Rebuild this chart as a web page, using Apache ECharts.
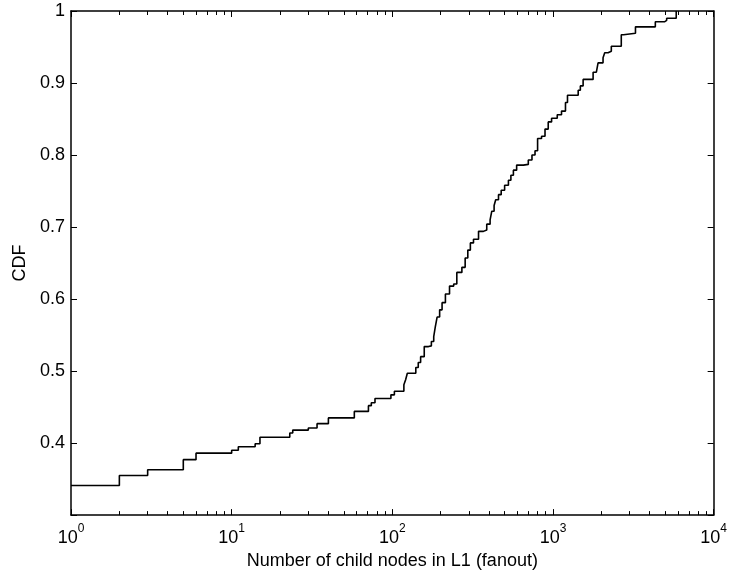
<!DOCTYPE html>
<html>
<head>
<meta charset="utf-8">
<script src="https://cdn.jsdelivr.net/npm/echarts@6/dist/echarts.min.js"></script>
<style>html,body{margin:0;padding:0;background:#fff}#c{width:730px;height:575px}</style>
</head>
<body>
<div id="c"></div>
<script>
// Jump locations (fanout) and CDF level after each jump
var fanout = [1, 2, 3, 5, 6, 10, 11, 14, 15, 23, 24, 30, 34, 40, 58, 71, 74, 78, 98, 103, 118, 121, 124, 140, 145, 150, 158, 168, 175, 181, 185, 190, 197, 204, 214, 227, 241, 252, 271, 284, 295, 306, 320, 344, 369, 387, 406, 416, 430, 440, 458, 476, 500, 528, 547, 567, 594, 654, 702, 740, 773, 802, 849, 892, 934, 980, 1063, 1130, 1196, 1231, 1435, 1480, 1540, 1777, 1862, 1908, 2049, 2099, 2201, 2307, 2661, 2750, 3261, 4335, 4943, 5100, 5848];
var cdf = [0.341, 0.355, 0.363, 0.377, 0.386, 0.390, 0.395, 0.399, 0.408, 0.414, 0.418, 0.421, 0.427, 0.435, 0.444, 0.452, 0.456, 0.462, 0.467, 0.472, 0.481, 0.488, 0.497, 0.505, 0.512, 0.520, 0.534, 0.535, 0.541, 0.548, 0.561, 0.575, 0.585, 0.595, 0.607, 0.618, 0.621, 0.637, 0.644, 0.657, 0.668, 0.678, 0.683, 0.694, 0.696, 0.704, 0.710, 0.722, 0.730, 0.738, 0.745, 0.751, 0.758, 0.765, 0.772, 0.779, 0.786, 0.787, 0.793, 0.800, 0.806, 0.823, 0.826, 0.836, 0.846, 0.851, 0.856, 0.861, 0.873, 0.883, 0.890, 0.896, 0.905, 0.915, 0.917, 0.928, 0.935, 0.942, 0.944, 0.951, 0.967, 0.969, 0.978, 0.985, 0.987, 0.990, 1.000];
var xMajor = [1, 10, 100, 1000, 10000];
var xMinor = [2,3,4,5,6,7,8,9,20,30,40,50,60,70,80,90,200,300,400,500,600,700,800,900,2000,3000,4000,5000,6000,7000,8000,9000];
var yTicks = [0.3, 0.4, 0.5, 0.6, 0.7, 0.8, 0.9, 1];
var xTitle = 'Number of child nodes in L1 (fanout)';
var yTitle = 'CDF';

var FONT = 'Liberation Sans, Arial, Helvetica, sans-serif';
var chart = echarts.init(document.getElementById('c'));
var pts = fanout.map(function (x, i) { return [x, cdf[i]]; });

function xAxisDef(pos, ticks, len, showLine, showLabel) {
  return {
    type: 'log', logBase: 10, min: 1, max: 10000, position: pos,
    axisLine: { show: showLine, onZero: false, lineStyle: { color: '#000', width: 1.5 } },
    axisTick: { show: true, inside: true, length: len, customValues: ticks, lineStyle: { color: '#000', width: 1 } },
    axisLabel: showLabel ? {
      show: true, customValues: xMajor, margin: 8,
      formatter: function (v) { return '{a|10}{b|' + Math.round(Math.log10(v)) + '}'; },
      rich: {
        a: { fontFamily: FONT, fontSize: 18, color: '#000', lineHeight: 24, verticalAlign: 'bottom' },
        b: { fontFamily: FONT, fontSize: 12, color: '#000', lineHeight: 24, verticalAlign: 'top' }
      }
    } : { show: false },
    splitLine: { show: false }, minorTick: { show: false }, minorSplitLine: { show: false }
  };
}

var xa0 = xAxisDef('bottom', xMajor, 6, true, true);
xa0.name = xTitle; xa0.nameLocation = 'middle'; xa0.nameGap = 36;
xa0.nameTextStyle = { fontFamily: FONT, fontSize: 18, color: '#000', verticalAlign: 'top' };

function yAxisDef(pos, showLabel) {
  return {
    type: 'value', min: 0.3, max: 1, interval: 0.1, position: pos,
    axisLine: { show: true, onZero: false, lineStyle: { color: '#000', width: 1.5 } },
    axisTick: { show: true, inside: true, length: 6, lineStyle: { color: '#000', width: 1 } },
    axisLabel: showLabel ? {
      show: true, margin: 6, fontFamily: FONT, fontSize: 18, color: '#000',
      formatter: function (v) { return Math.abs(v - yTicks[0]) < 1e-9 ? '' : String(Math.round(v * 10) / 10); }
    } : { show: false },
    splitLine: { show: false }
  };
}
var ya0 = yAxisDef('left', true);
ya0.name = yTitle; ya0.nameLocation = 'middle'; ya0.nameGap = 42;
ya0.nameTextStyle = { fontFamily: FONT, fontSize: 18, color: '#000' };

chart.setOption({
  animation: false,
  backgroundColor: '#fff',
  grid: { left: 71, right: 14, top: 11, bottom: 56, containLabel: false },
  xAxis: [
    xa0,
    xAxisDef('bottom', xMinor, 4, false, false),
    xAxisDef('top', xMajor, 6, true, false),
    xAxisDef('top', xMinor, 4, false, false)
  ],
  yAxis: [ya0, yAxisDef('right', false)],
  series: [{
    type: 'line', xAxisIndex: 0, yAxisIndex: 0, step: 'end',
    data: pts, showSymbol: false, symbol: 'none',
    lineStyle: { color: '#000', width: 1.6 }, clip: false
  }]
});
</script>
</body>
</html>
